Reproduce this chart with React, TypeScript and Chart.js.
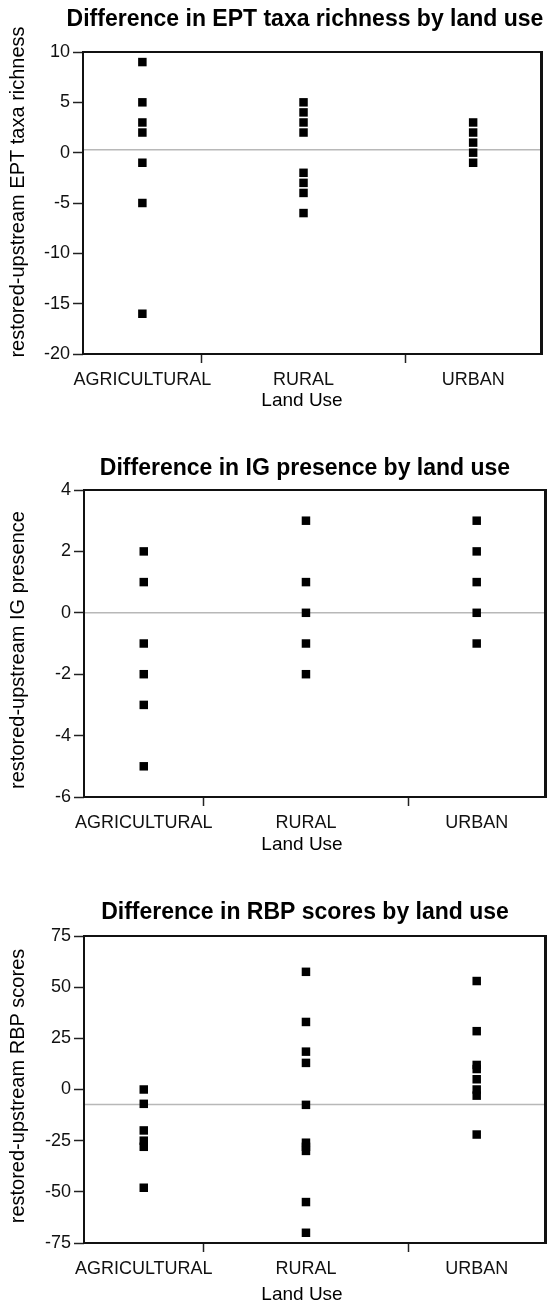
import React, { useEffect, useRef } from 'react';
import { Chart, registerables } from 'chart.js';

Chart.register(...registerables);

// ---- Data ----
const categories = ['AGRICULTURAL', 'RURAL', 'URBAN'];
// group widths on the x axis are proportional to the number of sites per land use
const sampleSizes = [7, 12, 8];

const eptAgricultural = [9, 5, 3, 2, -1, -5, -16];
const eptRural = [5, 4, 3, 2, -2, -3, -4, -6];
const eptUrban = [3, 2, 1, 0, -1];
const eptTicks = [-20, -15, -10, -5, 0, 5, 10];
const eptMean = 0.3;

const igAgricultural = [2, 1, -1, -2, -3, -5];
const igRural = [3, 1, 0, -1, -2];
const igUrban = [3, 2, 1, 0, -1];
const igTicks = [-6, -4, -2, 0, 2, 4];
const igMean = 0;

const rbpAgricultural = [0, -7, -20, -25, -28, -48];
const rbpRural = [57.5, 33, 18.5, 13, -7.5, -26, -28, -30, -55, -70];
const rbpUrban = [53, 28.5, 12, 10, 5, 0, -3, -22];
const rbpTicks = [-75, -50, -25, 0, 25, 50, 75];
const rbpMean = -7.3;

const titles = [
  'Difference in EPT taxa richness by land use',
  'Difference in IG presence by land use',
  'Difference in RBP scores by land use',
];
const yTitles = [
  'restored-upstream EPT taxa richness',
  'restored-upstream IG presence',
  'restored-upstream RBP scores',
];
const xTitle = 'Land Use';

const FONT = '"Liberation Sans", Arial, Helvetica, sans-serif';
const X_SCALE_H = 42;

type PanelLayout = {
  top: number;
  height: number;
  areaTop: number;
  areaBottom: number;
  areaLeft: number;
  areaRight: number;
  titleY: number;
  yTitleY: number;
  xTitleY: number;
};

const layouts: PanelLayout[] = [
  { top: 0, height: 420, areaTop: 52, areaBottom: 354, areaLeft: 83, areaRight: 541, titleY: 20, yTitleY: 192, xTitleY: 401 },
  { top: 430, height: 430, areaTop: 60, areaBottom: 367, areaLeft: 84, areaRight: 545, titleY: 39, yTitleY: 220, xTitleY: 415 },
  { top: 870, height: 437, areaTop: 66, areaBottom: 373, areaLeft: 84, areaRight: 545, titleY: 43, yTitleY: 216, xTitleY: 425 },
];

const decorPlugin = {
  id: 'decor',
  afterDraw(chart: any, _args: any, opts: any) {
    const { ctx, chartArea: a } = chart;
    ctx.save();
    ctx.strokeStyle = '#111';
    ctx.lineWidth = 2;
    ctx.strokeRect(a.left, a.top, a.right - a.left, a.bottom - a.top);
    ctx.lineWidth = 3;
    ctx.beginPath();
    ctx.moveTo(a.right + 0.5, a.top - 1);
    ctx.lineTo(a.right + 0.5, a.bottom + 1);
    ctx.stroke();
    ctx.fillStyle = '#000';
    ctx.textAlign = 'center';
    ctx.textBaseline = 'middle';
    ctx.font = `bold 23px ${FONT}`;
    ctx.fillText(opts.title, opts.titleX, opts.titleY);
    ctx.font = `19px ${FONT}`;
    ctx.fillText(opts.xTitle, opts.xTitleX, opts.xTitleY);
    ctx.translate(opts.yTitleX, opts.yTitleY);
    ctx.rotate(-Math.PI / 2);
    ctx.font = `20px ${FONT}`;
    ctx.fillText(opts.yTitle, 0, 0);
    ctx.restore();
  },
};

function Panel({ index, groups, ticks, mean }: { index: number; groups: number[][]; ticks: number[]; mean: number }) {
  const ref = useRef<HTMLCanvasElement | null>(null);
  const L = layouts[index];

  useEffect(() => {
    if (!ref.current) return;
    const total = sampleSizes.reduce((s, v) => s + v, 0);
    const bounds: number[] = [];
    const centers: number[] = [];
    let acc = 0;
    sampleSizes.forEach((n, i) => {
      centers.push(acc + n / 2);
      acc += n;
      if (i < sampleSizes.length - 1) bounds.push(acc);
    });
    const xTickValues = [...centers, ...bounds].sort((a, b) => a - b);

    const scatterSets = groups.map((vals, gi) => ({
      type: 'scatter' as const,
      label: categories[gi],
      data: vals.map((v) => ({ x: centers[gi], y: v })),
      pointStyle: 'rect',
      pointRadius: 6,
      pointHoverRadius: 6,
      backgroundColor: '#000',
      borderColor: '#000',
      borderWidth: 0,
      order: 1,
    }));

    const meanSet = {
      type: 'line' as const,
      label: 'mean',
      data: [
        { x: 0, y: mean },
        { x: total, y: mean },
      ],
      borderColor: '#b8b8b8',
      borderWidth: 1.5,
      pointRadius: 0,
      fill: false,
      order: 2,
    };

    const yMin = ticks[0];
    const yMax = ticks[ticks.length - 1];

    const chart = new Chart(ref.current, {
      type: 'scatter',
      data: { datasets: [meanSet as any, ...scatterSets] },
      options: {
        responsive: false,
        animation: false,
        devicePixelRatio: 1,
        layout: {
          padding: {
            top: L.areaTop,
            left: 0,
            right: 551 - L.areaRight,
            bottom: L.height - L.areaBottom - X_SCALE_H,
          },
        },
        plugins: {
          legend: { display: false },
          tooltip: { enabled: false },
          title: { display: false },
          decor: {
            title: titles[index],
            titleX: 305,
            titleY: L.titleY,
            yTitle: yTitles[index],
            yTitleX: 18,
            yTitleY: L.yTitleY,
            xTitle,
            xTitleX: 302,
            xTitleY: L.xTitleY,
          },
        } as any,
        scales: {
          x: {
            type: 'linear',
            min: 0,
            max: total,
            afterFit: (s: any) => {
              s.height = X_SCALE_H;
            },
            afterBuildTicks: (axis: any) => {
              axis.ticks = xTickValues.map((v) => ({ value: v }));
            },
            border: { display: false },
            grid: {
              drawOnChartArea: false,
              drawTicks: true,
              tickLength: 9,
              tickWidth: 1.5,
              tickColor: (ctx: any) => (ctx.tick && bounds.includes(ctx.tick.value) ? '#222' : 'rgba(0,0,0,0)'),
            },
            ticks: {
              autoSkip: false,
              maxRotation: 0,
              padding: 6,
              color: '#111',
              font: { family: FONT, size: 18 },
              callback: (value: any) => {
                const ci = centers.indexOf(Number(value));
                return ci >= 0 ? categories[ci] : '';
              },
            },
          },
          y: {
            type: 'linear',
            min: yMin,
            max: yMax,
            afterFit: (s: any) => {
              s.width = L.areaLeft;
            },
            afterBuildTicks: (axis: any) => {
              axis.ticks = ticks.map((v) => ({ value: v }));
            },
            border: { display: false },
            grid: {
              drawOnChartArea: false,
              drawTicks: true,
              tickLength: 10,
              tickWidth: 1.5,
              tickColor: '#222',
            },
            ticks: {
              autoSkip: false,
              padding: 3,
              color: '#111',
              font: { family: FONT, size: 18 },
            },
          },
        },
      },
      plugins: [decorPlugin],
    });
    return () => chart.destroy();
  }, []);

  return (
    <canvas
      ref={ref}
      width={551}
      height={L.height}
      style={{ position: 'absolute', left: 0, top: L.top, width: 551, height: L.height, display: 'block' }}
    />
  );
}

export default function App() {
  return (
    <div style={{ position: 'absolute', left: 0, top: 0, width: 551, height: 1307, background: '#fff', overflow: 'hidden' }}>
      <Panel index={0} groups={[eptAgricultural, eptRural, eptUrban]} ticks={eptTicks} mean={eptMean} />
      <Panel index={1} groups={[igAgricultural, igRural, igUrban]} ticks={igTicks} mean={igMean} />
      <Panel index={2} groups={[rbpAgricultural, rbpRural, rbpUrban]} ticks={rbpTicks} mean={rbpMean} />
    </div>
  );
}
